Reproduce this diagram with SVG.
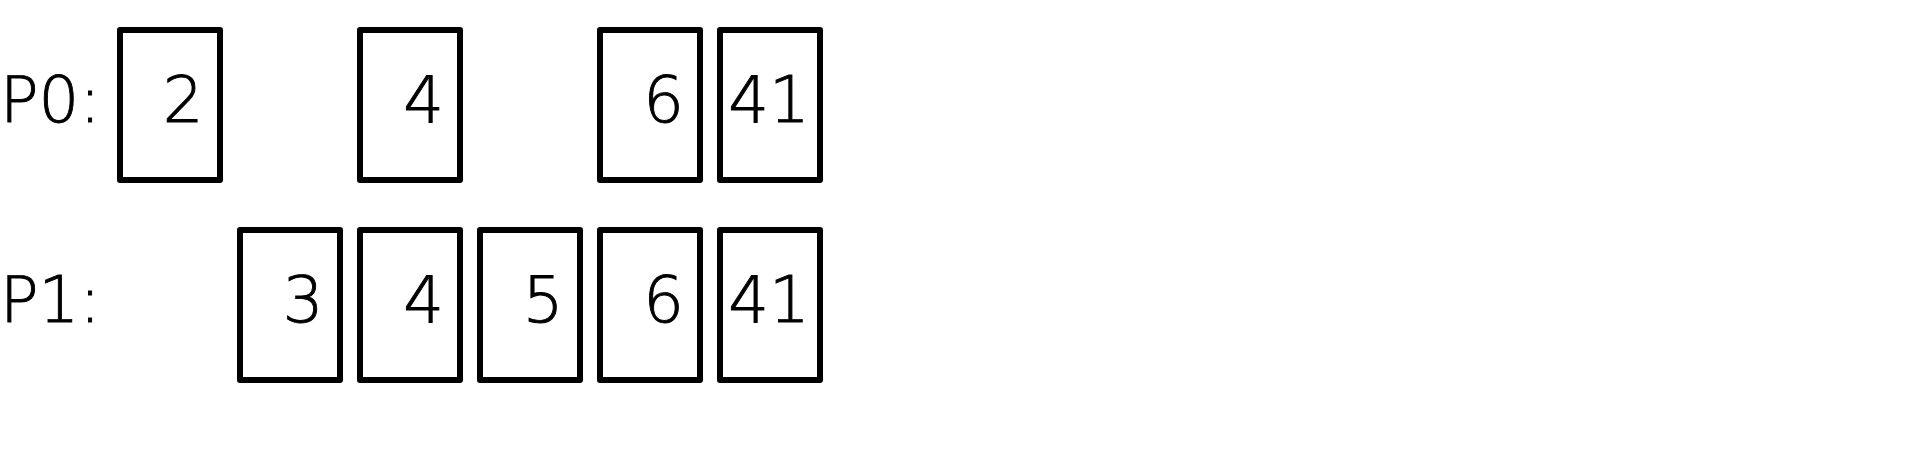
<svg xmlns="http://www.w3.org/2000/svg" width="1914" height="456" viewBox="0 0 1914 456">
<style>
.box{fill:#fff;stroke:#000;stroke-width:6;stroke-linejoin:round}
.t{font-family:"DejaVu Sans",sans-serif;font-weight:200;font-size:64px;fill:#000;stroke:#000;stroke-width:0.9}
.v{text-anchor:middle}
</style>
<rect width="1914" height="456" fill="#fff"/>
<g id="labels">
<text class="t" x="0" y="122">P0:</text>
<text class="t" x="0" y="322">P1:</text>
</g>
<g id="p0-2"><rect class="box" x="120" y="30" width="100" height="150"/><text class="t v" x="183" y="122">2</text></g>
<g id="p0-4"><rect class="box" x="360" y="30" width="100" height="150"/><text class="t v" x="423.5" y="122">4</text></g>
<g id="p0-6"><rect class="box" x="600" y="30" width="100" height="150"/><text class="t v" x="663.5" y="122">6</text></g>
<g id="p0-41"><rect class="box" x="720" y="30" width="100" height="150"/><text class="t v" x="769" y="122">41</text></g>
<g id="p1-3"><rect class="box" x="240" y="230" width="100" height="150"/><text class="t v" x="303" y="322">3</text></g>
<g id="p1-4"><rect class="box" x="360" y="230" width="100" height="150"/><text class="t v" x="423.5" y="322">4</text></g>
<g id="p1-5"><rect class="box" x="480" y="230" width="100" height="150"/><text class="t v" x="543" y="322">5</text></g>
<g id="p1-6"><rect class="box" x="600" y="230" width="100" height="150"/><text class="t v" x="663.5" y="322">6</text></g>
<g id="p1-41"><rect class="box" x="720" y="230" width="100" height="150"/><text class="t v" x="769" y="322">41</text></g>
<g id="connectors"/>
</svg>
